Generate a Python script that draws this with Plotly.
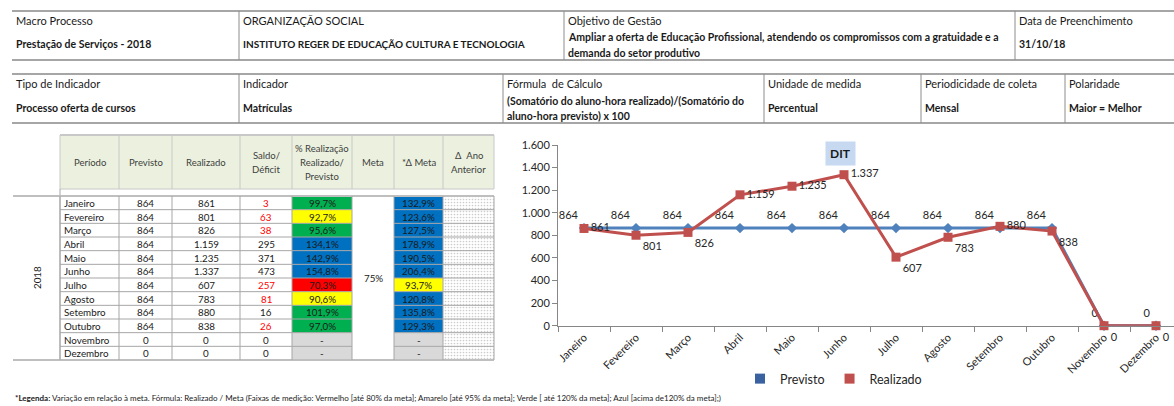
import plotly.graph_objects as go

W, H = 1174, 406
FONT = "Lato"

# ---------------- data ----------------
months = ["Janeiro", "Fevereiro", "Março", "Abril", "Maio", "Junho", "Julho",
          "Agosto", "Setembro", "Outubro", "Novembro", "Dezembro"]
previsto = [864, 864, 864, 864, 864, 864, 864, 864, 864, 864, 0, 0]
realizado = [861, 801, 826, 1159, 1235, 1337, 607, 783, 880, 838, 0, 0]
saldo = [3, 63, 38, 295, 371, 473, 257, 81, 16, 26, 0, 0]
pct_realizacao = [99.7, 92.7, 95.6, 134.1, 142.9, 154.8, 70.3, 90.6, 101.9, 97.0, None, None]
delta_meta = [132.9, 123.6, 127.5, 178.9, 190.5, 206.4, 93.7, 120.8, 135.8, 129.3, None, None]
meta_text = "75%"
ano = "2018"

header1_labels = ["Macro Processo", "ORGANIZAÇÃO SOCIAL", "Objetivo de Gestão", "Data de Preenchimento"]
header1_values = [["Prestação de Serviços - 2018"],
                  ["INSTITUTO REGER DE EDUCAÇÃO CULTURA E TECNOLOGIA"],
                  ["Ampliar a oferta de Educação Profissional, atendendo os compromissos com a gratuidade e a",
                   "demanda do setor produtivo"],
                  ["31/10/18"]]
header2_labels = ["Tipo de Indicador", "Indicador", "Fórmula  de Cálculo", "Unidade de medida",
                  "Periodicidade de coleta", "Polaridade"]
header2_values = [["Processo oferta de cursos"], ["Matrículas"],
                  ["(Somatório do aluno-hora realizado)/(Somatório do", "aluno-hora previsto) x 100"],
                  ["Percentual"], ["Mensal"], ["Maior = Melhor"]]
table_headers = [["Período"], ["Previsto"], ["Realizado"], ["Saldo/", "Déficit"],
                 ["% Realização", "Realizado/", "Previsto"], ["Meta"], ["*Δ Meta"], ["Δ  Ano", "Anterior"]]
footer_bold = "*Legenda:"
footer_text = (" Variação em relação à meta. Fórmula: Realizado / Meta (Faixas de medição: Vermelho [até 80% da meta]; "
               "Amarelo [até 95% da meta]; Verde [ até 120% da meta]; Azul [acima de120% da meta];)")

# label placement (style) for the Realizado data labels
realizado_label_pos = ["middle right", "bottom right", "bottom right", "middle right", "middle right",
                       "middle right", "bottom right", "bottom right", "middle right", "bottom right",
                       "bottom right", "bottom right"]


# ---------------- helpers ----------------
def fmt_int(v):
    return f"{v:,}".replace(",", ".")


def fmt_pct(v):
    return "-" if v is None else f"{v:.1f}".replace(".", ",") + "%"


def band_color(v):
    if v is None:
        return "#d9d9d9"
    if v <= 80:
        return "#ff0000"
    if v <= 95:
        return "#ffff00"
    if v <= 120:
        return "#00b050"
    return "#0070c0"


shapes = []
annotations = []


def T(x, y, s, size=10.5, bold=False, anchor="left", color="#1a1a1a", angle=0):
    annotations.append(dict(x=x, y=y, xref="x2", yref="y2", text=("<b>" + s + "</b>") if bold else s,
                            showarrow=False, xanchor=anchor, yanchor="middle", textangle=angle,
                            font=dict(family=FONT, size=size, color=color)))


def L(x0, y0, x1, y1, color="#a6a6a6", width=1):
    shapes.append(dict(type="line", xref="x2", yref="y2", x0=x0, y0=y0, x1=x1, y1=y1,
                       line=dict(color=color, width=width)))


def R(x0, y0, x1, y1, fill):
    shapes.append(dict(type="rect", xref="x2", yref="y2", x0=x0, y0=y0, x1=x1, y1=y1,
                       fillcolor=fill, line=dict(width=0)))


# ---------------- top info tables ----------------
t1_cols = [12, 239, 564, 1015, W]
t1_top, t1_bot = 11, 60
L(12, t1_top, W, t1_top, "#a6a6a6", 2)
L(12, t1_bot, W, t1_bot, "#a6a6a6", 2)
for x in t1_cols[1:-1]:
    L(x, t1_top, x, t1_bot, "#8c8c8c", 1)
for i, (lab, vals) in enumerate(zip(header1_labels, header1_values)):
    x = t1_cols[i] + 2
    T(x, 20, lab, 11)
    if len(vals) == 1:
        T(x, 44, vals[0], 10 if vals[0].isupper() else 10.5, bold=True)
    else:
        T(x, 37, vals[0], 10.5, bold=True)
        T(x, 53, vals[1], 10.5, bold=True)

t2_cols = [12, 239, 503, 764, 921, 1065, W]
t2_top, t2_bot = 74, 123
L(12, t2_top, W, t2_top, "#a6a6a6", 2)
L(12, t2_bot, W, t2_bot, "#a6a6a6", 2)
for x in t2_cols[1:-1]:
    L(x, t2_top, x, t2_bot, "#8c8c8c", 1)
for i, (lab, vals) in enumerate(zip(header2_labels, header2_values)):
    x = t2_cols[i] + 2
    T(x, 83, lab, 11)
    if len(vals) == 1:
        T(x, 108, vals[0], 10.5, bold=True)
    else:
        T(x, 101, vals[0], 10.5, bold=True)
        T(x, 116, vals[1], 10.5, bold=True)

# ---------------- data table ----------------
cx = [60, 119, 172, 240, 292, 352, 394, 443, 494]
h_top, h_bot, r_top = 135, 189, 196
rh = (360 - r_top) / len(months)
r_bot = r_top + rh * len(months)

R(cx[0], h_top, cx[-1], h_bot, "#ebf1de")
# colored cells
for i in range(len(months)):
    y0, y1 = r_top + i * rh, r_top + (i + 1) * rh
    R(cx[4], y0, cx[5], y1, band_color(pct_realizacao[i]))
    R(cx[6], y0, cx[7], y1, band_color(delta_meta[i]))

# header borders
L(cx[0], h_top, cx[-1], h_top, "#c8c8c8", 2)
L(cx[0], h_bot, cx[-1], h_bot, "#c8c8c8", 1)
for x in cx:
    L(x, h_top, x, h_bot, "#c8c8c8", 1)
L(cx[0], h_bot, cx[0], r_bot, "#a6a6a6", 1)

# header texts
for j, lines in enumerate(table_headers):
    xc = (cx[j] + cx[j + 1]) / 2
    n = len(lines)
    for k, s in enumerate(lines):
        y = (h_top + h_bot) / 2 + (k - (n - 1) / 2) * 14
        T(xc, y, s, 9.5, anchor="center", color="#404040")

# body grid
L(13, r_top, cx[-1], r_top, "#bfbfbf", 2)
L(13, r_bot, cx[-1], r_bot, "#bfbfbf", 2)
for i in range(1, len(months)):
    y = r_top + i * rh
    L(cx[0], y, cx[5], y, "#a6a6a6", 1)
    L(cx[6], y, cx[8], y, "#a6a6a6", 1)
for x in cx:
    L(x, r_top, x, r_bot, "#a6a6a6", 1)

for i, m in enumerate(months):
    yc = r_top + (i + 0.5) * rh
    T(cx[0] + 2, yc, m, 9.8)
    T((cx[1] + cx[2]) / 2, yc, fmt_int(previsto[i]), 9.8, anchor="center")
    T((cx[2] + cx[3]) / 2, yc, fmt_int(realizado[i]), 9.8, anchor="center")
    T((cx[3] + cx[4]) / 2, yc, fmt_int(saldo[i]), 9.8, anchor="center",
      color="#ff0000" if realizado[i] < previsto[i] else "#1a1a1a")
    T((cx[4] + cx[5]) / 2, yc, fmt_pct(pct_realizacao[i]), 9.8, anchor="center")
    T((cx[6] + cx[7]) / 2, yc, fmt_pct(delta_meta[i]), 9.8, anchor="center")

T((cx[5] + cx[6]) / 2, (r_top + r_bot) / 2, meta_text, 9.8, anchor="center")
T(37, (r_top + r_bot) / 2, ano, 9.8, anchor="center", angle=-90)

# footer
annotations.append(dict(x=13, y=398, xref="x2", yref="y2", showarrow=False, xanchor="left", yanchor="middle",
                        text="<b>" + footer_bold + "</b>" + footer_text,
                        font=dict(family=FONT, size=8, color="#1a1a1a")))

# chart title
annotations.append(dict(x=840, y=153, xref="x2", yref="y2", showarrow=False, xanchor="center", yanchor="middle",
                        text="<b>DIT</b>", bgcolor="#c6d9f1", borderpad=4,
                        font=dict(family=FONT, size=12, color="#1a1a1a")))

# ---------------- figure ----------------
fig = go.Figure()

# dotted "Δ Ano Anterior" column
fig.add_trace(go.Scatter(x=[cx[7], cx[8], cx[8], cx[7], cx[7]], y=[r_top, r_top, r_bot, r_bot, r_top],
                         xaxis="x2", yaxis="y2", mode="none", fill="toself", fillcolor="white",
                         fillpattern=dict(shape=".", size=3, solidity=0.25, fgcolor="#999999", bgcolor="white"),
                         hoverinfo="skip", showlegend=False))

fig.add_trace(go.Scatter(x=months, y=previsto, mode="lines+markers+text", name="Previsto",
                         line=dict(color="#4f81bd", width=3), marker=dict(symbol="diamond", size=8, color="#4f81bd"),
                         text=[fmt_int(v) for v in previsto], textposition="top left",
                         textfont=dict(family=FONT, size=11, color="#262626"), cliponaxis=False, showlegend=False))
fig.add_trace(go.Scatter(x=months, y=realizado, mode="lines+markers+text", name="Realizado",
                         line=dict(color="#c0504d", width=3), marker=dict(symbol="square", size=9, color="#c0504d"),
                         text=[fmt_int(v) for v in realizado], textposition=realizado_label_pos,
                         textfont=dict(family=FONT, size=11, color="#262626"), cliponaxis=False, showlegend=False))
# legend entries
fig.add_trace(go.Scatter(x=[None], y=[None], mode="markers", name="Previsto",
                         marker=dict(symbol="square", size=10, color="#3a62a0")))
fig.add_trace(go.Scatter(x=[None], y=[None], mode="markers", name="Realizado",
                         marker=dict(symbol="square", size=10, color="#c0504d")))

y0px, y1px = 325.7, 145.0
x0px = 558.0
cat_w = 52.0
fig.update_layout(
    width=W, height=H, margin=dict(l=0, r=0, t=0, b=0, autoexpand=False),
    paper_bgcolor="white", plot_bgcolor="rgba(0,0,0,0)",
    separators=",.",
    font=dict(family=FONT, color="#262626"),
    xaxis=dict(type="category", categoryorder="array", categoryarray=months,
               domain=[x0px / W, 1.0], range=[-0.5, -0.5 + (W - x0px) / cat_w],
               showline=True, linecolor="#868686", linewidth=1, ticks="outside", ticklen=5,
               tickcolor="#868686", tickson="boundaries", tickangle=-45, automargin=False,
               tickfont=dict(family=FONT, size=11, color="#262626"), showgrid=False, zeroline=False),
    yaxis=dict(domain=[1 - y0px / H, 1 - y1px / H], range=[0, 1600], dtick=200, tickformat=",d",
               showline=True, linecolor="#868686", linewidth=1, ticks="outside", ticklen=5, tickcolor="#868686",
               automargin=False,
               tickfont=dict(family=FONT, size=11, color="#262626"), showgrid=False, zeroline=False),
    xaxis2=dict(domain=[0, 1], range=[0, W], anchor="y2", visible=False, fixedrange=True),
    yaxis2=dict(domain=[0, 1], range=[H, 0], anchor="x2", visible=False, fixedrange=True),
    legend=dict(orientation="h", x=740 / W, y=1 - 379 / H, xanchor="left", yanchor="middle",
                font=dict(family=FONT, size=12.5, color="#262626"), bgcolor="rgba(0,0,0,0)",
                itemwidth=30, tracegroupgap=0),
    shapes=shapes, annotations=annotations, showlegend=True,
)

fig.write_html("out.html", config={"displayModeBar": False},
               post_script="document.body.style.margin='0';document.body.style.overflow='hidden';")
